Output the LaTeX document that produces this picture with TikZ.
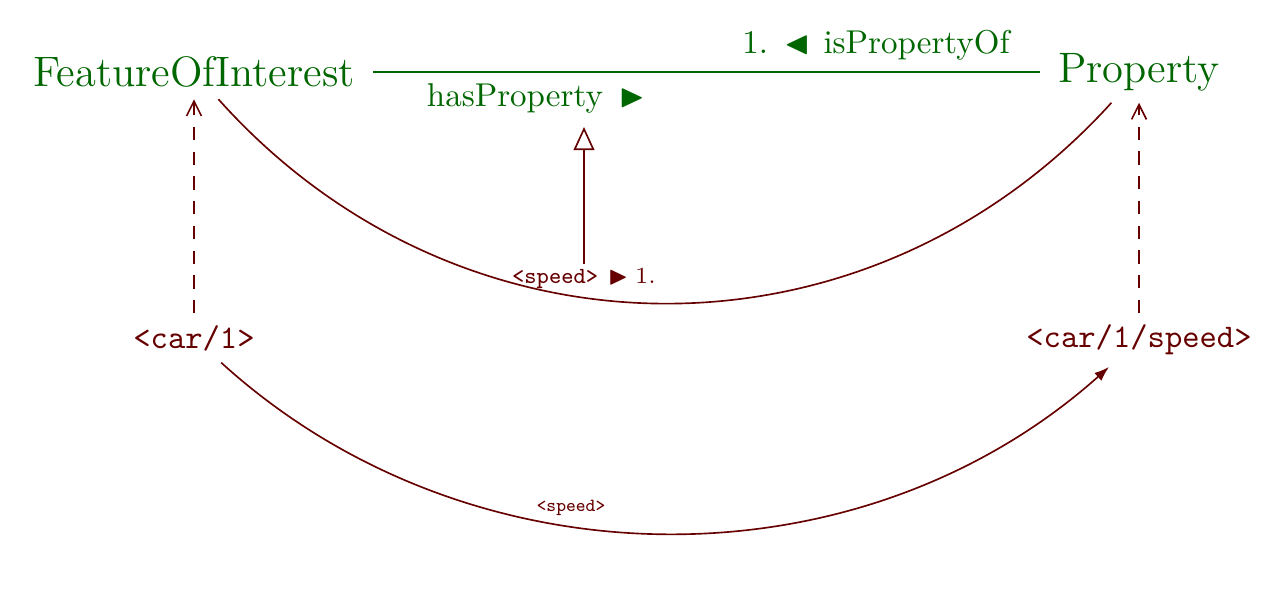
\documentclass[tikz,border=0pt]{standalone}
\usepackage{amssymb}
\usetikzlibrary{arrows.meta}
\definecolor{cgreen}{rgb}{0,0.4,0}
\definecolor{cred}{rgb}{0.4,0,0}
\begin{document}
\begin{tikzpicture}[x=0.303pt,y=0.303pt,line width=0.5pt,
  cls/.style={text=cgreen,font=\fontsize{12.9}{15}\selectfont},
  ind/.style={text=cred,font=\ttfamily},
  glab/.style={text=cgreen,inner sep=1pt},
  rlab/.style={text=cred,font=\scriptsize,inner sep=1pt},
  assoc/.style={draw=cgreen,shorten <=2pt,shorten >=2pt},
  rel/.style={draw=cred},
  dsh/.style={draw=cred,dash pattern=on 4pt off 3.5pt,-{Straight Barb[length=4.5pt,width=4.5pt]}},
  subprop/.style={draw=cred,-{Triangle[open,length=7pt,width=6.3pt]}},
  inst/.style={draw=cred,-{Latex[length=4.5pt,width=3.2pt]}}]
\useasboundingbox (0,0) rectangle (1285,-610);
\node[cls] (foi) at (194,-72) {FeatureOfInterest};
\node[cls] (prop) at (1139,-72) {Property};
\node[ind] (car) at (194,-338) {<car/1>};
\node[ind] (cs) at (1139,-340) {<car/1/speed>};
\draw[assoc] (foi) -- (prop);
\node[glab] (ipo) at (876,-45) {1.\hspace{5pt}$\blacktriangleleft$\hspace{4pt}isPropertyOf};
\node[glab] (hp) at (536,-98) {hasProperty\hspace{5pt}$\blacktriangleright$};
\draw[rel] (foi) to[bend right=48,looseness=1.04] (prop);
\node[rlab] (spd) at (584,-278) {\texttt{<speed>}\hspace{3pt}$\blacktriangleright$\hspace{2pt}1.};
\coordinate (hpt) at (584,-127);
\draw[subprop] (spd) -- (hpt);
\draw[dsh] (car) -- (foi);
\draw[dsh] (cs) -- (prop);
\draw[inst] (car) to[bend right=42,looseness=0.965] (cs);
\node[rlab,font=\fontsize{5.6}{6}\selectfont\ttfamily] (spd2) at (571,-508) {<speed>};
\end{tikzpicture}
\end{document}
